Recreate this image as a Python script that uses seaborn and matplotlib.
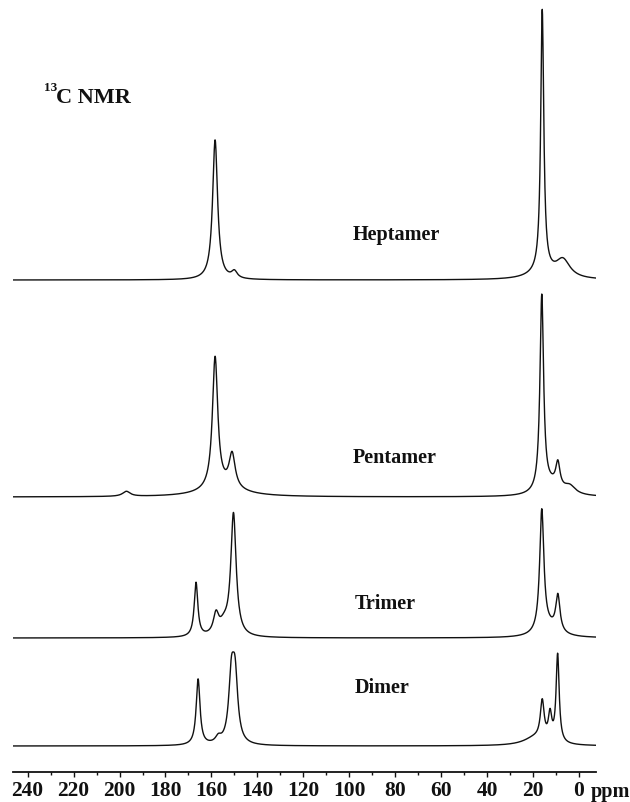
import numpy as np
import pandas as pd
import matplotlib
matplotlib.use("Agg")
import matplotlib.pyplot as plt
import seaborn as sns
from matplotlib.ticker import MultipleLocator

# ---- data: peak lists (ppm position, peak height, line width in ppm) ----
samples = ["Heptamer", "Pentamer", "Trimer", "Dimer"]

heptamer_ppm = [158.4, 150.0, 16.0, 16.0, 7.0]
heptamer_height = [140, 7, 262, 6, 18]
heptamer_width = [2.6, 3.0, 1.6, 14.0, 7.5]

pentamer_ppm = [197.0, 158.4, 151.0, 155.0, 16.2, 9.2, 12.0, 4.0]
pentamer_height = [5, 132, 34, 8, 196, 24, 10, 8]
pentamer_width = [4.0, 2.8, 3.2, 22.0, 1.9, 2.2, 10.0, 6.0]

trimer_ppm = [166.7, 158.0, 154.5, 150.4, 16.2, 9.2, 13.0]
trimer_height = [54, 20, 10, 122, 122, 36, 9]
trimer_width = [1.9, 2.8, 5.0, 2.8, 2.2, 2.2, 10.0]

dimer_ppm = [165.8, 157.0, 151.3, 149.7, 16.0, 12.6, 9.3, 19.0]
dimer_height = [66, 6, 62, 62, 38, 26, 88, 8]
dimer_width = [2.0, 3.0, 2.8, 2.8, 2.0, 1.8, 1.6, 12.0]

peak_tables = {
    "Heptamer": (heptamer_ppm, heptamer_height, heptamer_width),
    "Pentamer": (pentamer_ppm, pentamer_height, pentamer_width),
    "Trimer": (trimer_ppm, trimer_height, trimer_width),
    "Dimer": (dimer_ppm, dimer_height, dimer_width),
}

tick_values = list(range(0, 241, 20))
tick_labels = [str(v) for v in tick_values]

# ---- layout (vertical stacking offsets, in axis units) ----
offsets = {"Heptamer": 492, "Pentamer": 275, "Trimer": 134, "Dimer": 26}
label_pos = {"Heptamer": (98.4, 537), "Pentamer": (98.4, 314),
             "Trimer": (97.5, 168), "Dimer": (97.5, 84)}

x_left, x_right = 246.5, -7.4
ppm_grid = np.linspace(x_left, x_right, 2400)

frames = []
for name in samples:
    p, h, w = peak_tables[name]
    y = np.zeros_like(ppm_grid)
    for pi, hi, wi in zip(p, h, w):
        y += hi / (1.0 + ((ppm_grid - pi) / (wi / 2.0)) ** 2)
    frames.append(pd.DataFrame({"ppm": ppm_grid, "signal": y + offsets[name],
                                "sample": name}))
df = pd.concat(frames, ignore_index=True)

sns.set_style("ticks")
plt.rcParams["font.family"] = ["Liberation Serif", "DejaVu Serif"]

fig = plt.figure(figsize=(6.30, 8.02), dpi=100)
ax = fig.add_axes([12.7 / 630, 30 / 802, (596 - 12.7) / 630, 772 / 802])

for name in samples:
    sns.lineplot(data=df[df["sample"] == name], x="ppm", y="signal",
                 color="#111111", linewidth=1.0, estimator=None, sort=False,
                 ax=ax, legend=False)

ax.set_xlim(x_left, x_right)
ax.set_ylim(0, 772)
sns.despine(ax=ax, left=True, top=True, right=True)
ax.set_yticks([])
ax.set_ylabel("")
ax.set_xlabel("")
ax.set_xticks(tick_values)
ax.set_xticklabels(tick_labels, fontsize=15.5, fontweight="bold",
                   family="Liberation Serif")
ax.xaxis.set_minor_locator(MultipleLocator(10))
ax.tick_params(axis="x", which="major", direction="out", length=3.5,
               width=1.0, pad=3, colors="#111111")
ax.tick_params(axis="x", which="minor", direction="out", length=1.8,
               width=1.0, colors="#111111")
ax.spines["bottom"].set_linewidth(1.3)
ax.spines["bottom"].set_color("#111111")
ax.patch.set_alpha(0)

for name in samples:
    xx, yy = label_pos[name]
    ax.text(xx, yy, name, ha="left", va="center", fontsize=14.5,
            fontweight="bold", family="Liberation Serif", color="#111111")

# title "13C NMR"
fig.text(44 / 630, 1 - 88 / 802, "13", ha="left", va="center", fontsize=9.5,
         fontweight="bold", family="Liberation Serif", color="#111111")
fig.text(56 / 630, 1 - 98 / 802, "C NMR", ha="left", va="center",
         fontsize=16, fontweight="bold", family="Liberation Serif",
         color="#111111")

fig.text(591 / 630, 1 - 797 / 802, "ppm", ha="left", va="baseline",
         fontsize=14.5, fontweight="bold", family="Liberation Serif",
         color="#111111")

fig.savefig("out.png", dpi=100)
